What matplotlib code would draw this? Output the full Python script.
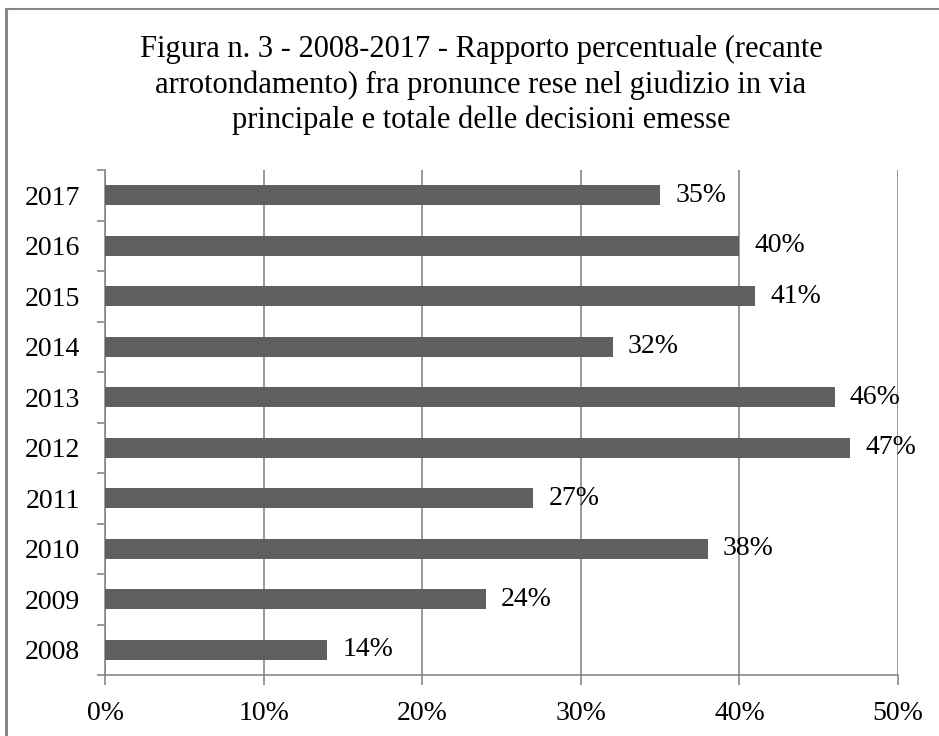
import matplotlib
matplotlib.use("Agg")
import matplotlib.pyplot as plt
from matplotlib.ticker import FuncFormatter, FixedLocator
from matplotlib.lines import Line2D

years = ["2008", "2009", "2010", "2011", "2012", "2013", "2014", "2015", "2016", "2017"]
shares = [14, 24, 38, 27, 47, 46, 32, 41, 40, 35]
xticks = [0, 10, 20, 30, 40, 50]
title = ("Figura n. 3 - 2008-2017 - Rapporto percentuale (recante\n"
         "arrotondamento) fra pronunce rese nel giudizio in via\n"
         "principale e totale delle decisioni emesse")

plt.rcParams["font.family"] = ["Liberation Serif", "DejaVu Serif"]

W, H = 939, 736
fig = plt.figure(figsize=(W / 100, H / 100), dpi=100)
ax = fig.add_axes([105 / W, 1 - 675 / H, (898 - 105) / W, (675 - 170) / H])

bar_color = "#5f5f5f"
grid_color = "#878787"

ypos = list(range(len(years)))
ax.barh(ypos, shares, height=0.4, color=bar_color, zorder=3)

ax.set_xlim(0, 50)
ax.set_ylim(-0.5, len(years) - 0.5)
ax.set_xticks(xticks)
ax.xaxis.set_major_formatter(FuncFormatter(lambda v, p: f"{v:.0f}%"))
ax.set_yticks(ypos)
ax.set_yticklabels(years)
ax.yaxis.set_minor_locator(FixedLocator([i - 0.5 for i in range(len(years) + 1)]))

ax.grid(axis="x", color=grid_color, linewidth=1.2, zorder=0)
for s in ["top", "right"]:
    ax.spines[s].set_visible(False)
for s in ["left", "bottom"]:
    ax.spines[s].set_color(grid_color)
    ax.spines[s].set_linewidth(1.2)

ax.tick_params(axis="y", which="major", length=0, pad=18, labelsize=20)
ax.tick_params(axis="y", which="minor", length=6, width=1.2, color=grid_color)
ax.tick_params(axis="x", length=7, width=1.2, color=grid_color, pad=12, labelsize=20)

for y, v in zip(ypos, shares):
    ax.annotate(f"{v}%", (v, y), xytext=(11, 0), textcoords="offset points",
                va="center", ha="left", fontsize=20, zorder=4)

fig.text(481 / W, 1 - 85 / H, title, ha="center", va="center",
         fontsize=22, linespacing=1.28)

# outer chart frame (left and top edges)
fig.add_artist(Line2D([6 / W, 6 / W], [0, 1 - 9 / H], transform=fig.transFigure,
                      color=grid_color, linewidth=2.2))
fig.add_artist(Line2D([6 / W, 1], [1 - 9 / H, 1 - 9 / H], transform=fig.transFigure,
                      color=grid_color, linewidth=1.5))

fig.savefig("out.png", dpi=100)
